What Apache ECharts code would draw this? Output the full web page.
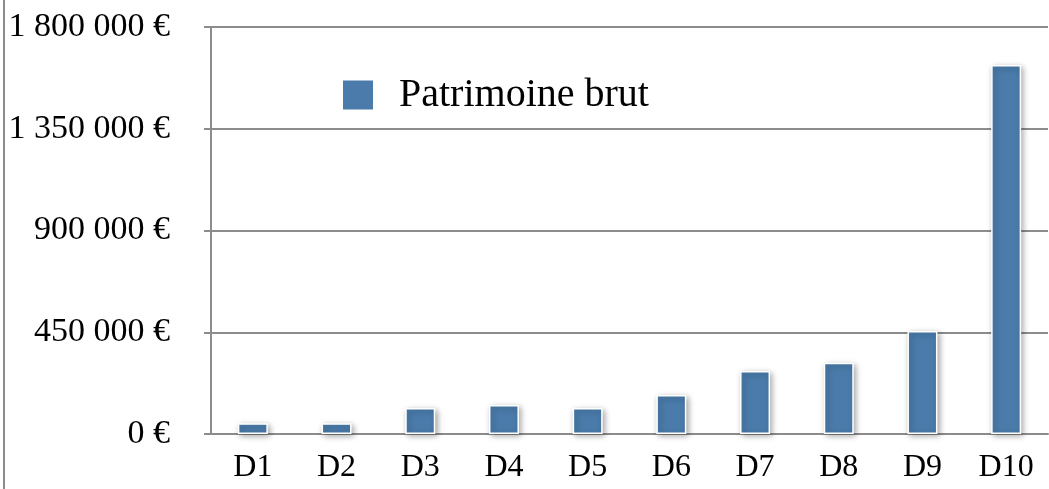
<!DOCTYPE html>
<html>
<head>
<meta charset="utf-8">
<script src="https://cdn.jsdelivr.net/npm/echarts@6/dist/echarts.min.js"></script>
<style>
  html, body { margin: 0; padding: 0; background: #fff; }
  #chart { width: 1049px; height: 489px; }
</style>
</head>
<body>
<div id="chart"></div>
<script>
// données
var deciles = ["D1", "D2", "D3", "D4", "D5", "D6", "D7", "D8", "D9", "D10"];
var patrimoineBrut = [47000, 47000, 115000, 128000, 115000, 173000, 279000, 315000, 456000, 1632000];
var yTicks = [0, 450000, 900000, 1350000, 1800000];

function euro(v) {
  return String(v).replace(/\B(?=(\d{3})+(?!\d))/g, " ") + " €";
}

var myChart = echarts.init(document.getElementById("chart"));
var option = {
  animation: false,
  textStyle: { fontFamily: "Liberation Serif" },
  grid: { left: 211, right: 1, top: 27, bottom: 55 },
  legend: {
    left: 336,
    top: 70,
    itemWidth: 32,
    itemHeight: 31,
    icon: "rect",
    data: ["Patrimoine brut"],
    textStyle: { fontSize: 40, color: "#000", padding: [0, 0, 0, 20], fontFamily: "Liberation Serif" }
  },
  xAxis: {
    type: "category",
    data: deciles,
    axisLine: { lineStyle: { color: "#8c8c8c", width: 2 } },
    axisTick: { length: 8, lineStyle: { color: "#8c8c8c", width: 2 } },
    axisLabel: { color: "#000", fontSize: 32, margin: 18 }
  },
  yAxis: {
    type: "value",
    min: yTicks[0],
    max: yTicks[yTicks.length - 1],
    interval: yTicks[1] - yTicks[0],
    axisLine: { show: true, lineStyle: { color: "#8c8c8c", width: 2 } },
    axisTick: { show: true, length: 7, lineStyle: { color: "#8c8c8c", width: 2 } },
    splitLine: { lineStyle: { color: "#8c8c8c", width: 2 } },
    axisLabel: { color: "#000", fontSize: 34, margin: 41, formatter: euro }
  },
  graphic: [
    {
      type: "line",
      shape: { x1: 4, y1: 0, x2: 4, y2: 489 },
      style: { stroke: "#8c8c8c", lineWidth: 2 }
    }
  ],
  series: [
    {
      name: "Patrimoine brut",
      type: "bar",
      data: patrimoineBrut,
      barWidth: 30,
      itemStyle: {
        color: "#4a7baa",
        borderColor: "#ffffff",
        borderWidth: 1.5,
        shadowBlur: 6,
        shadowColor: "rgba(0,0,0,0.35)",
        shadowOffsetX: 2,
        shadowOffsetY: 2
      }
    }
  ]
};
myChart.setOption(option);
</script>
</body>
</html>
